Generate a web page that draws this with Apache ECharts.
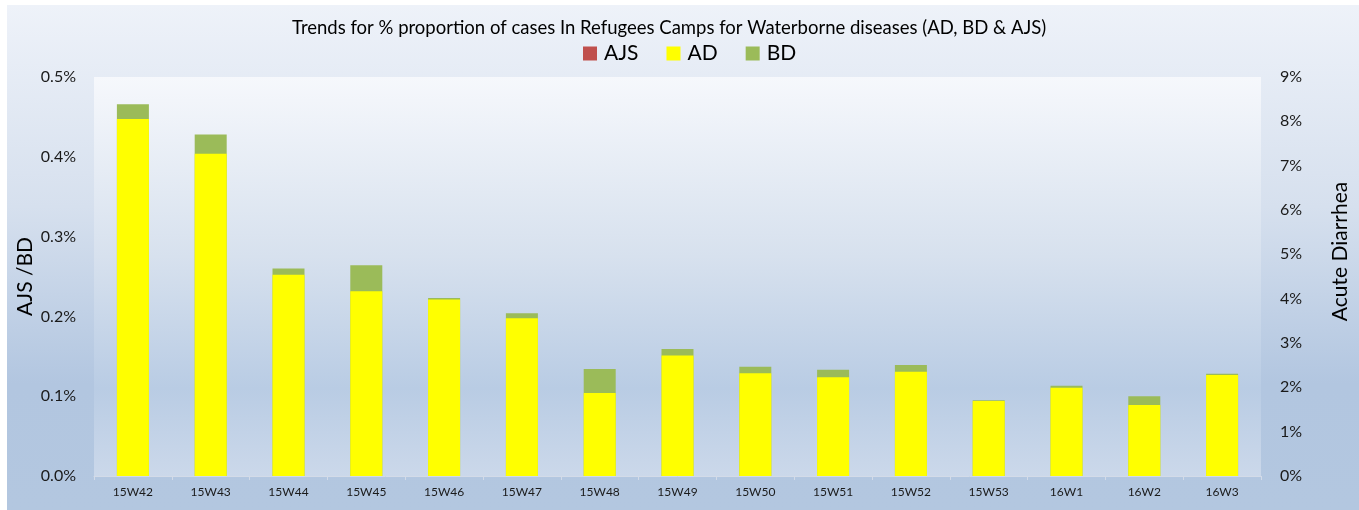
<!DOCTYPE html>
<html>
<head>
<meta charset="utf-8">
<script src="https://cdn.jsdelivr.net/npm/echarts@6/dist/echarts.min.js"></script>
<style>
html,body{margin:0;padding:0;background:#ffffff;}
#bg{position:absolute;left:7px;top:5px;right:0;bottom:0;width:1352px;height:505px;
background:linear-gradient(to bottom,#eef2f9 0%,#d6e0ee 40%,#b2c6e0 75%,#b3c7e0 100%);}
#chart{position:absolute;left:0;top:0;width:1359px;height:510px;}
</style>
</head>
<body>
<div id="bg"></div>
<div id="chart"></div>
<script>
const categories = ['15W42','15W43','15W44','15W45','15W46','15W47','15W48','15W49','15W50','15W51','15W52','15W53','16W1','16W2','16W3'];
// Left axis (AJS / BD), in %
const ajs = [0,0,0,0,0,0,0,0,0,0,0,0,0,0,0];
const bd  = [0.466,0.428,0.260,0.264,0.223,0.204,0.134,0.159,0.137,0.133,0.139,0.095,0.113,0.100,0.128];
// Right axis (Acute Diarrhea), in %
const ad  = [8.05,7.27,4.54,4.17,3.98,3.56,1.87,2.72,2.32,2.23,2.35,1.69,1.99,1.60,2.28];
const leftTicks = [0,0.1,0.2,0.3,0.4,0.5];
const rightTicks = [0,1,2,3,4,5,6,7,8,9];

const FONT = 'Lato';
const chart = echarts.init(document.getElementById('chart'), null, {renderer:'canvas'});
chart.setOption({
  backgroundColor: 'transparent',
  animation: false,
  textStyle: {fontFamily: FONT},
  title: {
    text: 'Trends for % proportion of cases In Refugees Camps for Waterborne diseases (AD, BD & AJS)',
    left: 287, top: 14,
    textStyle: {fontFamily: FONT, fontSize: 18.5, fontWeight: 'normal', color: '#000'}
  },
  legend: {
    data: ['AJS','AD','BD'],
    left: 578, top: 38,
    itemWidth: 14, itemHeight: 14, itemGap: 28,
    icon: 'rect',
    textStyle: {fontFamily: FONT, fontSize: 21, color: '#000', padding:[0,0,0,2]}
  },
  grid: {
    left: 94, right: 91, top: 77, bottom: 34,
    show: true, borderWidth: 0,
    backgroundColor: new echarts.graphic.LinearGradient(0,0,0,1,[
      {offset:0,color:'#f6f8fc'},
      {offset:0.45,color:'#d7e1ee'},
      {offset:0.78,color:'#b9cce4'},
      {offset:1,color:'#cbd8ea'}
    ])
  },
  xAxis: {
    type: 'category',
    data: categories,
    axisLine: {lineStyle: {color: '#d3dbe8', width: 1}},
    axisTick: {show: true, length: 4, lineStyle: {color: '#d3dbe8'}},
    axisLabel: {fontFamily: FONT, fontSize: 12, color: '#1a1a1a', margin: 10}
  },
  yAxis: [
    {
      type: 'value', min: 0, max: 0.5, interval: 0.1,
      name: 'AJS /BD', nameLocation: 'middle', nameGap: 58, nameRotate: 90,
      nameMoveOverlap: false,
      nameTextStyle: {fontFamily: FONT, fontSize: 21, color: '#000'},
      axisLine: {show: false}, axisTick: {show: false}, splitLine: {show: false},
      axisLabel: {fontFamily: FONT, fontSize: 16, color: '#1a1a1a', margin: 18,
        formatter: v => v.toFixed(1) + '%'}
    },
    {
      type: 'value', min: 0, max: 9, interval: 1,
      name: 'Acute Diarrhea', nameLocation: 'middle', nameGap: 69, nameRotate: 90,
      nameTextStyle: {fontFamily: FONT, fontSize: 21, color: '#000', padding:[0,0,0,50]},
      axisLine: {show: false}, axisTick: {show: false}, splitLine: {show: false},
      axisLabel: {fontFamily: FONT, fontSize: 16, color: '#1a1a1a', margin: 19,
        formatter: v => v + '%'}
    }
  ],
  series: [
    {name:'AJS', type:'bar', yAxisIndex:0, stack:'left', data: ajs, barWidth: 32,
      itemStyle:{color:'#C0504D'}, z: 2},
    {name:'BD', type:'bar', yAxisIndex:0, stack:'left', data: bd, barWidth: 32,
      itemStyle:{color:'#9BBB59'}, z: 2},
    {name:'AD', type:'bar', yAxisIndex:1, data: ad, barWidth: 32, barGap: '-100%',
      itemStyle:{color:'#FFFF00'}, z: 3}
  ]
});
</script>
</body>
</html>
